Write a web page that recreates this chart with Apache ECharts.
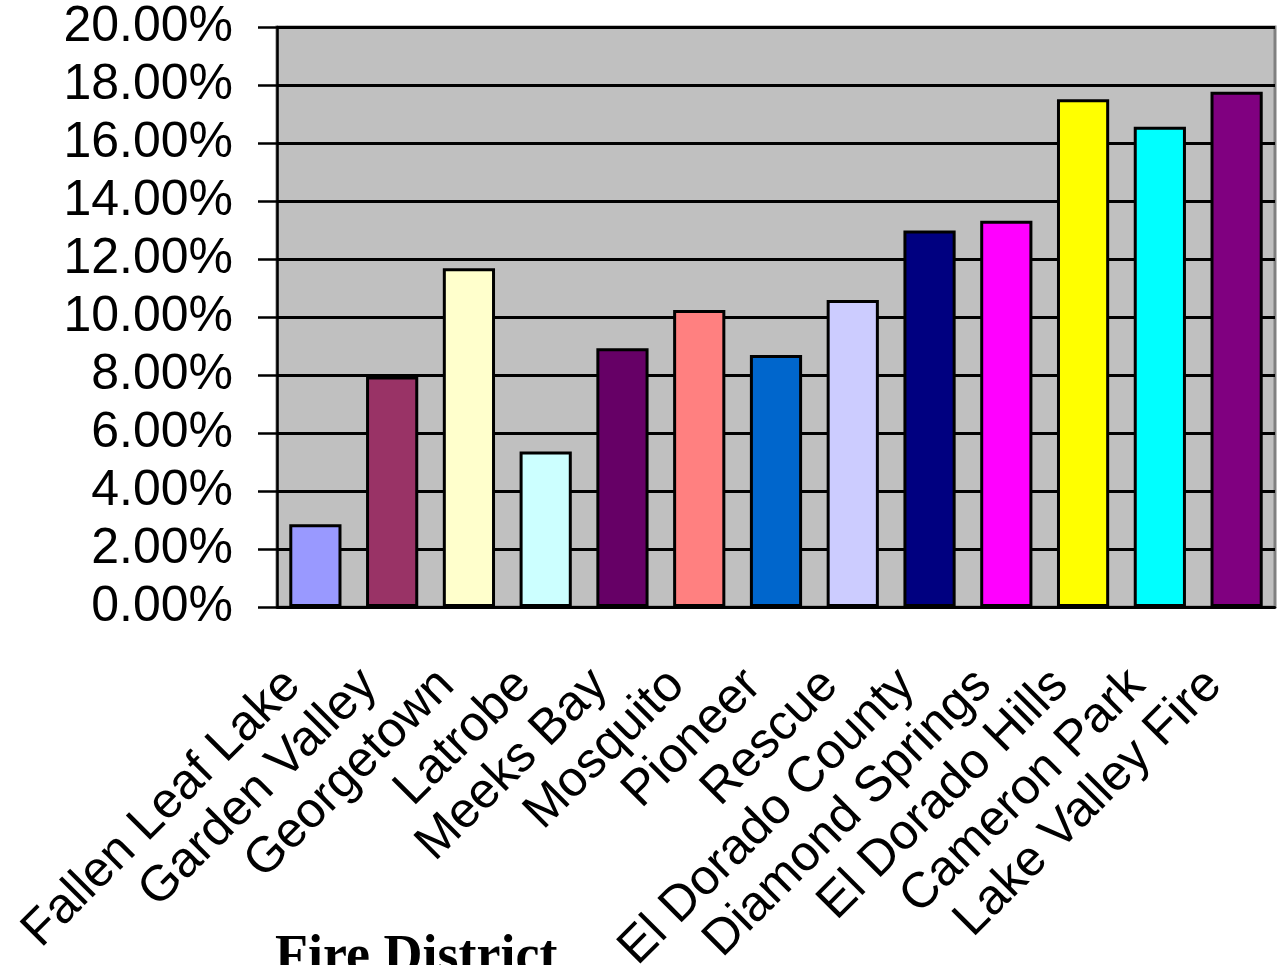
<!DOCTYPE html>
<html>
<head>
<meta charset="utf-8">
<script src="https://cdn.jsdelivr.net/npm/echarts@6/dist/echarts.min.js"></script>
<style>
  html, body { margin: 0; padding: 0; background: #fff; }
  #chart { width: 1278px; height: 965px; }
</style>
</head>
<body>
<div id="chart"></div>
<script>
// fire districts, left to right
const districts = [
  "Fallen Leaf Lake", "Garden Valley", "Georgetown", "Latrobe", "Meeks Bay",
  "Mosquito", "Pioneer", "Rescue", "El Dorado County", "Diamond Springs",
  "El Dorado Hills", "Cameron Park", "Lake Valley Fire"
];
// percent values
const percents = [2.85, 7.95, 11.68, 5.36, 8.92, 10.24, 8.69, 10.59, 12.98, 13.32, 17.51, 16.56, 17.77];
const barColors = [
  "#9999FF", "#993366", "#FFFFCC", "#CCFFFF", "#660066", "#FF8080", "#0066CC",
  "#CCCCFF", "#000080", "#FF00FF", "#FFFF00", "#00FFFF", "#800080"
];

const chart = echarts.init(document.getElementById("chart"));

const option = {
  backgroundColor: "#fff",
  animation: false,
  title: {
    text: "Fire District",
    left: 270,
    top: 926,
    textStyle: {
      fontFamily: "Liberation Serif",
      fontWeight: "bold",
      fontSize: 54,
      color: "#000"
    }
  },
  grid: {
    left: 277,
    right: 3,
    top: 27,
    bottom: 358,
    outerBoundsMode: "none",
    containLabel: false,
    show: true,
    backgroundColor: "#c0c0c0",
    borderColor: "#808080",
    borderWidth: 3
  },
  xAxis: {
    type: "category",
    data: districts,
    axisLine: { lineStyle: { color: "#000", width: 2.5 } },
    axisTick: { length: 19, lineStyle: { color: "#000", width: 2.5 } },
    axisLabel: {
      interval: 0,
      rotate: 45,
      margin: 48,
      padding: [0, 32, 0, 0],
      fontFamily: "Liberation Sans",
      fontSize: 50,
      color: "#000"
    }
  },
  yAxis: {
    type: "value",
    min: 0,
    max: 20,
    interval: 2,
    axisLine: { show: true, lineStyle: { color: "#000", width: 2.5 } },
    axisTick: { show: true, length: 19, lineStyle: { color: "#000", width: 2.5 } },
    axisLabel: {
      margin: 44,
      fontFamily: "Liberation Sans",
      fontSize: 50,
      color: "#000",
      formatter: v => v.toFixed(2) + "%"
    },
    splitLine: { lineStyle: { color: "#000", width: 3 } }
  },
  series: [
    {
      type: "bar",
      barCategoryGap: "32%",
      data: percents.map((v, i) => ({
        value: v,
        itemStyle: { color: barColors[i] }
      })),
      itemStyle: { borderColor: "#000", borderWidth: 3 }
    }
  ]
};

chart.setOption(option);
</script>
</body>
</html>
